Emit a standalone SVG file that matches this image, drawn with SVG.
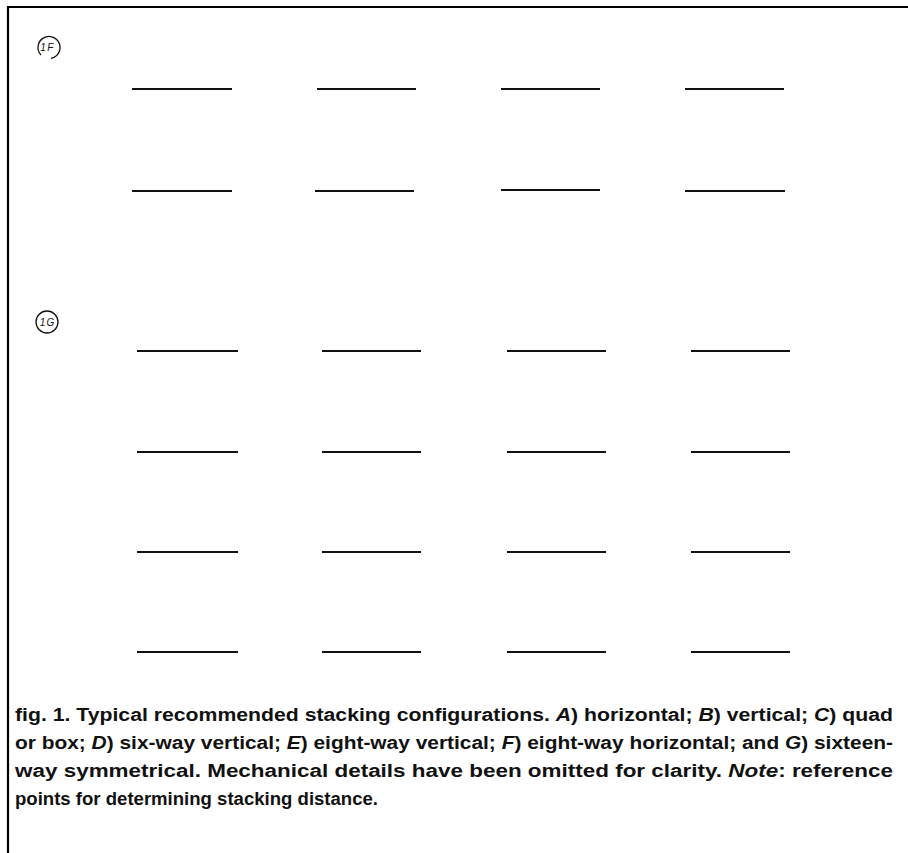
<svg xmlns="http://www.w3.org/2000/svg" width="908" height="853" viewBox="0 0 908 853">
<style>
.frame{stroke:#000;stroke-width:2.2;fill:none}
.bar{stroke:#111;stroke-width:2;fill:none}
.circ{stroke:#111;stroke-width:1.3;fill:none}
.lbl{font-family:"Liberation Sans",Arial,sans-serif;font-size:10px;font-style:italic;fill:#111}
.cap{font-family:"Liberation Sans",Arial,sans-serif;font-size:18px;font-weight:bold;fill:#111}
.it{font-style:italic}
</style>
<rect width="908" height="853" fill="#fff"/>
<g id="frame">
<line class="frame" x1="7" y1="7" x2="908" y2="7"/>
<line class="frame" x1="8" y1="7" x2="8" y2="853"/>
</g>
<g id="label-1F">
<path class="circ" d="M41 55 A11 11 0 1 1 51 58.3"/>
<text class="lbl" x="47.5" y="51" text-anchor="middle" letter-spacing="1.5">1F</text>
</g>
<g id="label-1G">
<circle class="circ" cx="47" cy="322" r="11"/>
<text class="lbl" x="47.5" y="325.5" text-anchor="middle" letter-spacing="1">1G</text>
</g>
<g id="fig-1F">
<line class="bar" x1="132" y1="89" x2="232" y2="89"/>
<line class="bar" x1="317" y1="89" x2="416" y2="89"/>
<line class="bar" x1="501" y1="89" x2="600" y2="89"/>
<line class="bar" x1="685" y1="89" x2="784" y2="89"/>
<line class="bar" x1="132" y1="191" x2="232" y2="191"/>
<line class="bar" x1="315" y1="191" x2="414" y2="191"/>
<line class="bar" x1="501" y1="190" x2="600" y2="190"/>
<line class="bar" x1="685" y1="191" x2="785" y2="191"/>
</g>
<g id="fig-1G">
<line class="bar" x1="137" y1="351" x2="238" y2="351"/>
<line class="bar" x1="322" y1="351" x2="421" y2="351"/>
<line class="bar" x1="507" y1="351" x2="606" y2="351"/>
<line class="bar" x1="691" y1="351" x2="790" y2="351"/>
<line class="bar" x1="137" y1="452" x2="238" y2="452"/>
<line class="bar" x1="322" y1="452" x2="421" y2="452"/>
<line class="bar" x1="507" y1="452" x2="606" y2="452"/>
<line class="bar" x1="691" y1="452" x2="790" y2="452"/>
<line class="bar" x1="137" y1="552" x2="238" y2="552"/>
<line class="bar" x1="322" y1="552" x2="421" y2="552"/>
<line class="bar" x1="507" y1="552" x2="606" y2="552"/>
<line class="bar" x1="691" y1="552" x2="790" y2="552"/>
<line class="bar" x1="137" y1="652" x2="238" y2="652"/>
<line class="bar" x1="322" y1="652" x2="421" y2="652"/>
<line class="bar" x1="507" y1="652" x2="606" y2="652"/>
<line class="bar" x1="691" y1="652" x2="790" y2="652"/>
</g>
<g id="caption">
<text class="cap" x="15" y="721" textLength="878" lengthAdjust="spacingAndGlyphs">fig. 1. Typical recommended stacking configurations. <tspan class="it">A</tspan>) horizontal; <tspan class="it">B</tspan>) vertical; <tspan class="it">C</tspan>) quad</text>
<text class="cap" x="15" y="749" textLength="878" lengthAdjust="spacingAndGlyphs">or box; <tspan class="it">D</tspan>) six-way vertical; <tspan class="it">E</tspan>) eight-way vertical; <tspan class="it">F</tspan>) eight-way horizontal; and <tspan class="it">G</tspan>) sixteen-</text>
<text class="cap" x="15" y="777" textLength="878" lengthAdjust="spacingAndGlyphs">way symmetrical. Mechanical details have been omitted for clarity. <tspan class="it">Note</tspan>: reference</text>
<text class="cap" x="15" y="805" textLength="363" lengthAdjust="spacingAndGlyphs">points for determining stacking distance.</text>
</g>
</svg>
